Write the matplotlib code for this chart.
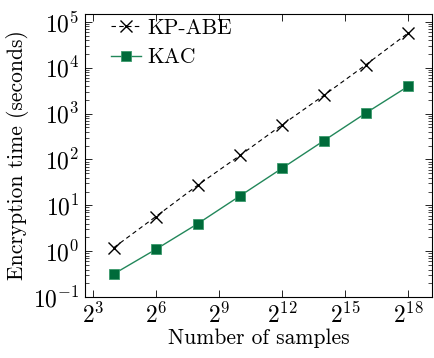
import math
import matplotlib
matplotlib.use("Agg")
import matplotlib.pyplot as plt
from matplotlib import ticker

plt.rcParams['font.family'] = 'serif'
plt.rcParams['font.serif'] = ['cmr10', 'DejaVu Serif']
plt.rcParams['mathtext.fontset'] = 'cm'
plt.rcParams['axes.formatter.use_mathtext'] = True
plt.rcParams['axes.unicode_minus'] = False

# data
samples_exp = [4, 6, 8, 10, 12, 14, 16, 18]
kp_abe = [1.2, 5.7, 27.6, 122, 565, 2500, 11600, 56600]
kac = [0.32, 1.1, 4.0, 16, 64, 257, 1030, 3900]
xtick_exp = [3, 6, 9, 12, 15, 18]

samples = [2 ** e for e in samples_exp]

fig = plt.figure(figsize=(4.35, 3.58), dpi=100)
ax = fig.add_axes([0.195, 0.170, 0.798, 0.791])

ax.plot(samples, kp_abe, color='black', linestyle=(0, (4, 3)), linewidth=0.8,
        marker='x', markersize=9, markeredgewidth=1.0, label='KP-ABE')
ax.plot(samples, kac, color='#22875a', linestyle='-', linewidth=1.0,
        marker='s', markersize=6.5, markerfacecolor='#006b3a',
        markeredgecolor='#3a9a6c', markeredgewidth=0.6, label='KAC')

ax.set_xscale('log', base=2)
ax.set_yscale('log')
ax.set_xlim(2 ** 2.62, 2 ** 19.14)
ax.set_ylim(10 ** -1, 10 ** 5.17)

ax.set_xticks([2 ** e for e in xtick_exp])
ax.xaxis.set_major_formatter(ticker.FuncFormatter(lambda v, p: r'$2^{%d}$' % round(math.log2(v))))
ax.xaxis.set_minor_locator(ticker.NullLocator())
ax.yaxis.set_major_locator(ticker.LogLocator(base=10, numticks=20))
ax.yaxis.set_minor_locator(ticker.LogLocator(base=10, subs=range(2, 10), numticks=20))
ax.yaxis.set_minor_formatter(ticker.NullFormatter())

ax.tick_params(which='both', direction='in', top=True, right=True, labelsize=17)
ax.tick_params(which='major', length=5, width=0.6, pad=4)
ax.tick_params(which='minor', length=3, width=0.5)
for s in ax.spines.values():
    s.set_linewidth(0.8)

ax.set_xlabel('Number of samples', fontsize=15.5, labelpad=0)
ax.set_ylabel('Encryption time (seconds)', fontsize=15.5, labelpad=3)

ax.legend(loc='upper left', bbox_to_anchor=(0.038, 1.03), frameon=False,
          fontsize=15.5, handlelength=1.4, handletextpad=0.3,
          labelspacing=0.45, borderaxespad=0.2)

fig.savefig('out.png', dpi=100)
